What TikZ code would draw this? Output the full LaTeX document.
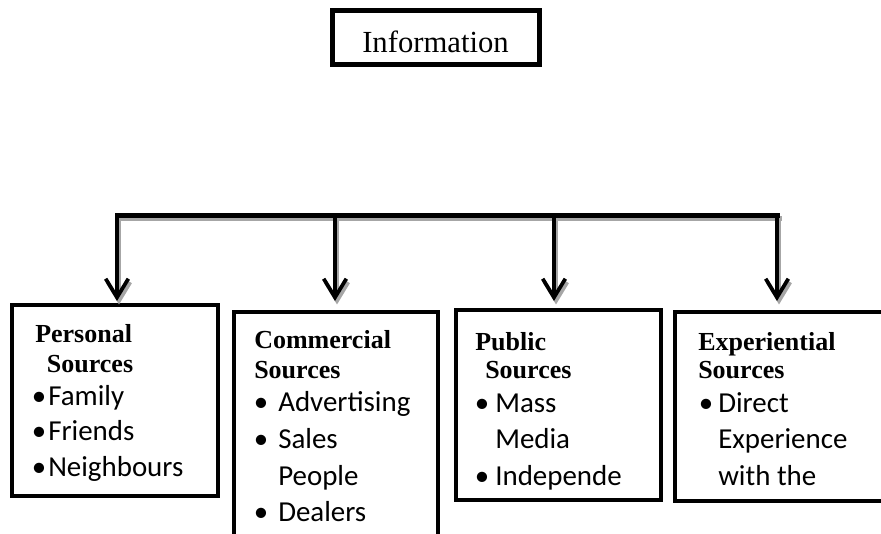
\documentclass[tikz,border=0pt]{standalone}
\usepackage{fontspec}
\setmainfont{Liberation Serif}
\newfontfamily\calibrifont{Carlito}
\usetikzlibrary{arrows.meta}
\usetikzlibrary{positioning}

\tikzset{
  srcbox/.style={draw, line width=3pt, inner sep=0pt, outer sep=0pt},
  headtxt/.style={anchor=base west, inner sep=0pt, font=\fontsize{19.5}{22}\selectfont\bfseries},
  itemtxt/.style={anchor=base west, inner sep=0pt, font=\calibrifont\fontsize{21.7}{26}\selectfont},
  dottxt/.style={anchor=base, inner sep=0pt, font=\calibrifont\fontsize{21.7}{26}\selectfont},
  barline/.style={line width=3.75pt, line cap=rect},
  shadowline/.style={draw=black!35, transform canvas={xshift=1.5pt, yshift=-2.6pt}},
  downarrow/.style={line width=3pt, -{Straight Barb[length=14pt,width=17pt,line width=2.8pt]}},
}

\begin{document}
\begin{tikzpicture}[x=0.75pt,y=0.75pt,yscale=-1,xscale=1]
\clip (0,0) rectangle (881,533);

%Shape: Rectangle (top box)
\node [srcbox, line width=3.75pt, minimum width=155.25pt, minimum height=40.5pt] (info) at (435.5,37) {};
% Text Node
\node [anchor=base, inner sep=0pt, font=\fontsize{23}{27}\selectfont] (infotxt) at (435.5,52) {Information};

%Shape: Rectangle (source boxes)
\node [srcbox, minimum width=154.5pt, minimum height=143.25pt] (personal) at (115,400.5) {};
\node [srcbox, minimum width=153pt, minimum height=216pt] (commercial) at (336,456) {};
\node [srcbox, minimum width=153.75pt, minimum height=142.5pt] (public) at (558.5,405) {};
\node [srcbox, minimum width=168.75pt, minimum height=141.75pt] (experiential) at (787.5,406.5) {};

% bar ends and arrow tips
\coordinate (b1) at (117,215);
\coordinate (b2) at (335,215);
\coordinate (b3) at (554,215);
\coordinate (b4) at (777,215);
\coordinate (t1) at (117,301);
\coordinate (t2) at (335,301);
\coordinate (t3) at (554,301);
\coordinate (t4) at (777,301);

%Straight Lines (shadow)
\draw [barline, shadowline] (b1) -- (b4) ;
\draw [downarrow, shadowline] (b1) -- (t1) ;
\draw [downarrow, shadowline] (b2) -- (t2) ;
\draw [downarrow, shadowline] (b3) -- (t3) ;
\draw [downarrow, shadowline] (b4) -- (t4) ;

%Straight Lines
\draw [barline] (b1) -- (b4) ;
\draw [downarrow] (b1) -- (t1) ;
\draw [downarrow] (b2) -- (t2) ;
\draw [downarrow] (b3) -- (t3) ;
\draw [downarrow] (b4) -- (t4) ;

% Text Node
\node [headtxt] (perhead) at (35,342.7) {Personal};
\node [headtxt] (persrc) at (46.7,372.7) {Sources};
\node [dottxt] (perdota) at (39,405) {•};
\node [itemtxt] (peritema) at (48,405) {Family};
\node [dottxt] (perdotb) at (39,440.7) {•};
\node [itemtxt] (peritemb) at (48,440.7) {Friends};
\node [dottxt] (perdotc) at (39,476.7) {•};
\node [itemtxt] (peritemc) at (48,476.7) {Neighbours};

% Text Node
\node [headtxt] (comhead) at (254,348.3) {Commercial};
\node [headtxt] (comsrc) at (254,378.3) {Sources};
\node [dottxt] (comdota) at (261,411.7) {•};
\node [itemtxt] (comitema) at (278,411.7) {Advertising};
\node [dottxt] (comdotb) at (261,448.3) {•};
\node [itemtxt] (comitemb) at (278,448.3) {Sales};
\node [itemtxt] (comitemc) at (278,485) {People};
\node [dottxt] (comdotd) at (261,521.7) {•};
\node [itemtxt] (comitemd) at (278,521.7) {Dealers};

% Text Node
\node [headtxt] (pubhead) at (475,350) {Public};
\node [headtxt] (pubsrc) at (485,378.3) {Sources};
\node [dottxt] (pubdota) at (482,412) {•};
\node [itemtxt] (pubitema) at (495,412) {Mass};
\node [itemtxt] (pubitemb) at (495,448.3) {Media};
\node [dottxt] (pubdotc) at (482,485) {•};
\node [itemtxt] (pubitemc) at (495,485) {Independe};

% Text Node
\node [headtxt] (exphead) at (698,350) {Experiential};
\node [headtxt] (expsrc) at (698,378.3) {Sources};
\node [dottxt] (expdota) at (706,412) {•};
\node [itemtxt] (expitema) at (718,412) {Direct};
\node [itemtxt] (expitemb) at (718,448.3) {Experience};
\node [itemtxt] (expitemc) at (718,485) {with the};

\end{tikzpicture}
\end{document}
